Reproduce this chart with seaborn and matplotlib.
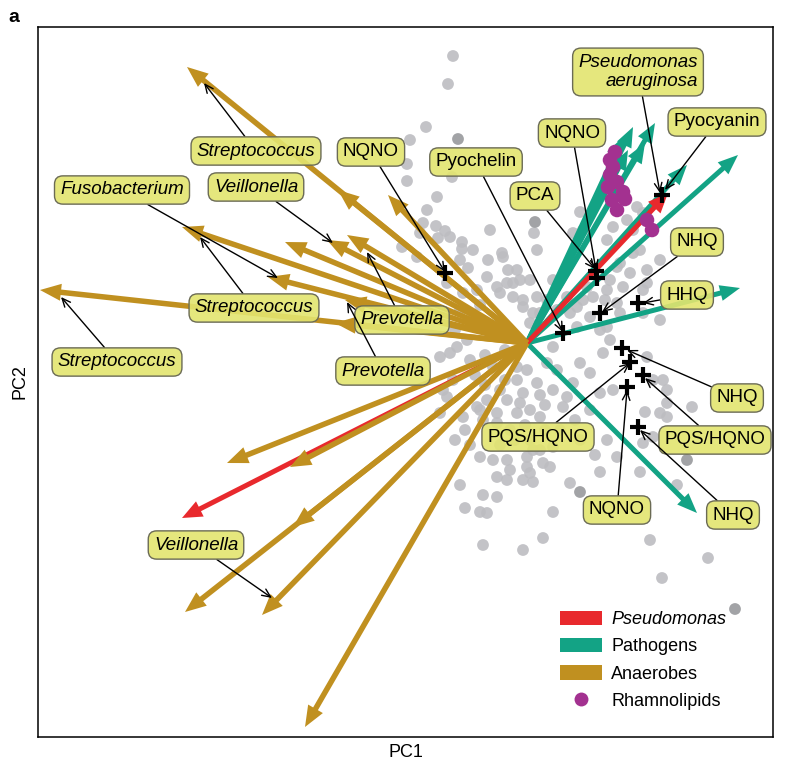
import matplotlib
matplotlib.use("Agg")
import matplotlib.pyplot as plt
import seaborn as sns
from matplotlib.patches import Patch
from matplotlib.lines import Line2D
from matplotlib.colors import to_rgba

sns.set_theme(style="white")
plt.rcParams['font.family'] = ['Liberation Sans', 'DejaVu Sans']
plt.rcParams['text.color'] = 'black'
plt.rcParams['axes.labelcolor'] = 'black'

GOLD = "#C09020"
TEAL = "#13A385"
RED = "#E8292D"
PURPLE = "#A33190"
GREY = "#BDBDC1"
GREY_DARK = "#A2A3A6"
LABEL_FILL = "#E3E56F"

# --- sample scores (PC1, PC2) ---
grey_pc1 = [-74, -79, -101, -117, -120, -120, -75, -90, -100, -104, -91, -82, -89, -77,
            -65, -65, -107, -125, -110, -37, -39, -25, -67, -59, -54, -40, -50, -27, -19,
            -10, -14, -7, 7, 10, 3, 10, -4, 6, 3, -80, -64, -30, -14, 26, 40, 50, 13, 66,
            63, 53, 56, 80, 86, 100, 106, 46, 93, 103, 106, 120, 133, 133, 116, 93, 80, 78,
            60, 73, -24, -20, -4, 110, 116, 113, 120, 90, 83, 96, 90, 116, 56, 43, 50, 80,
            20, 30,
            -60, -70, -34, -10, -27, -50, -44, -74, -84, -10, 0, 10, 26, 40, -4, -20, -40,
            -47, -64, -30, -10, 3, 13, -30, -7, 26, 20, 30, 46, 36, -77, -87, -80, -87, -57,
            -42, -22, -52, -17, -2, 18, -62, -72,
            -57, -72, -37, -27, -47, -67, -22, -42, 13, 18, -12, 3, -27, 13, -57, 33, 48,
            63, 53, 68,
            -47, -34, -20, 0, 23, -30, -20, 3, 6, -4, -67, -44, -30, -62, -47, -40, 26, 73,
            -44, -4, 16, -17, 0,
            53, 63, 73, 86, 76, 83, 120, 136, 140, 133, 118, 165, 126, 140, 140, 116, 113,
            90, 80, 126, 150, 43, 16, 26, 6, 123, 181, 135]
grey_pc2 = [287, 259, 216, 203, 179, 162, 166, 146, 133, 120, 117, 112, 105, 106,
            101, 94, 110, 96, 86, 113, 83, 90, 83, 75, 93, 66, 53, 50, 73,
            73, 60, 63, 110, 93, 63, 46, 36, 30, 20, 60, 50, 56, 46, 63, 46, 36, 30, 46,
            26, 131, 113, 103, 116, 123, 113, 110, 80, 70, 90, 60, 83, 23, 30, 30, 53, 43,
            56, 13, 86, 60, 43, 136, 130, 93, 73, 76, 63, 56, 40, 53, 43, 30, 16, 16,
            43, 33,
            3, -4, -24, -37, -47, -64, -77, -37, -47, -24, -27, -40, -47, -54, -50, -57, -57,
            -67, -74, -70, -70, -67, -74, -80, -60, -4, -20, -27, -40, -64, -10, -14, -54, -70, -17,
            -12, -7, -32, -87, -82, -87, -87, -97,
            23, 13, 8, 23, 38, 33, -37, -42, -52, -62, -97, -97, -102, -107, -102, -87, -77,
            -67, -97, -112,
            -114, -117, -117, -114, -124, -134, -137, -130, -139, -137, -142, -152, -154, -165,
            -169, -170, -169, -129, -202, -207, -195, -127, -124,
            -20, -30, -50, -47, -10, 3, -14, -37, -47, -70, -69, -64, -37, -60, -74, -100,
            -129, -114, -97, -94, -142, -140, -120, -104, -107, -197, -215, -235]
grey_dark_pc1 = [53, 160, 208, -69, 8]
grey_dark_pc2 = [-149, -117, -266, 204, 121]

rhamno_pc1 = [88, 83, 86, 90, 81, 96, 85, 98, 90, 120, 125, 83]
rhamno_pc2 = [191, 183, 176, 161, 156, 151, 143, 144, 133, 123, 113, 168]

# --- loadings (arrow tips) ---
anaerobe_pc1 = [-340, -189, -487, -345, -242, -200, -180, -139, -259, -182, -192,
                -300, -237, -234, -342, -265, -222]
anaerobe_pc2 = [276, 153, 53, 116, 101, 103, 108, 148, 66, 43, 20,
                -120, -124, -184, -269, -272, -384]
pathogen_pc1 = [211, 213, 170, 128, 106, 96, 118, 160, 101]
pathogen_pc2 = [188, 55, -170, 220, 216, 206, 200, 178, 193]
pseudo_pc1 = [-345, 141]
pseudo_pc2 = [-175, 150]

# --- metabolite positions ---
metab_pc1 = [-82, 69, 70, 73, 111, 36, 135, 95, 103, 116, 100, 111]
metab_pc2 = [70, 72, 65, 30, 40, 10, 148, -5, -19, -32, -44, -84]

# --- labels: text, box centre, arrow target, italic ---
label_text = ["Streptococcus", "Fusobacterium", "Veillonella", "NQNO", "Pyochelin",
              "Streptococcus", "Prevotella", "Prevotella", "Streptococcus", "Veillonella",
              "Pseudomonas\naeruginosa", "NQNO", "Pyocyanin", "PCA", "NHQ", "HHQ", "NHQ",
              "PQS/HQNO", "PQS/HQNO", "NQNO", "NHQ"]
label_pc1 = [-271, -405, -271, -156, -51, -273, -125, -144, -410, -331,
             111, 45, 190, 8, 170, 160, 210, 11, 188, 90, 206]
label_pc2 = [192, 153, 156, 191, 181, 35, 23, -28, -19, -202,
             271, 210, 221, 147, 101, 48, -55, -94, -97, -167, -172]
target_pc1 = [-323, -249, -194, -82, 36, -327, -160, -180, -466, -255,
              133, 69, 138, 68, 75, 116, 100, 103, 118, 100, 113]
target_pc2 = [260, 65, 100, 71, 11, 106, 91, 41, 46, -255,
              150, 73, 153, 74, 31, 40, -7, -20, -35, -47, -87]
label_italic = [True, True, True, False, False, True, True, True, True, True,
                True, False, False, False, False, False, False, False, False, False, False]

fig = plt.figure(figsize=(7.92, 7.68), dpi=100)
ax = fig.add_axes([38 / 792, 31 / 768, 735 / 792, 710 / 768])

sns.scatterplot(x=grey_pc1, y=grey_pc2, color=GREY, s=72, edgecolor='none',
                alpha=0.9, ax=ax, legend=False, zorder=1)
sns.scatterplot(x=grey_dark_pc1, y=grey_dark_pc2, color=GREY_DARK, s=72,
                edgecolor='none', ax=ax, legend=False, zorder=1)


def draw_arrows(xs, ys, color, width, hw, hl, z):
    for dx, dy in zip(xs, ys):
        ax.arrow(0, 0, dx, dy, width=width, head_width=hw, head_length=hl,
                 length_includes_head=True, color=color, lw=0, zorder=z)


draw_arrows(pathogen_pc1, pathogen_pc2, TEAL, 5, 16, 20, 2)
draw_arrows(pseudo_pc1, pseudo_pc2, RED, 5, 17, 20, 3)
draw_arrows(anaerobe_pc1, anaerobe_pc2, GOLD, 5.5, 17, 21, 4)

sns.scatterplot(x=rhamno_pc1, y=rhamno_pc2, color=PURPLE, s=110, edgecolor='none',
                ax=ax, legend=False, zorder=5)
ax.plot(metab_pc1, metab_pc2, linestyle='none', marker='+', color='black',
        markersize=12, markeredgewidth=3, zorder=6)

box_fc = to_rgba(LABEL_FILL, 0.9)
for txt, lx, ly, tx, ty, it in zip(label_text, label_pc1, label_pc2,
                                   target_pc1, target_pc2, label_italic):
    ax.annotate(txt, xy=(tx, ty), xytext=(lx, ly), textcoords='data',
                ha='center', va='center', fontsize=13.5, color='black',
                style='italic' if it else 'normal', multialignment='right',
                bbox=dict(boxstyle='round,pad=0.3,rounding_size=0.45',
                          fc=box_fc, ec='#6b6b55', lw=1),
                arrowprops=dict(arrowstyle='->,head_length=0.45,head_width=0.2',
                                color='black', lw=1, shrinkA=0, shrinkB=0),
                zorder=8)

ax.set_xlim(-489, 246)
ax.set_ylim(-394, 316)
ax.set_xticks([])
ax.set_yticks([])
for sp in ax.spines.values():
    sp.set_color('black')
    sp.set_linewidth(1.1)
ax.set_xlabel('PC1', fontsize=13, labelpad=5)
ax.set_ylabel('PC2', fontsize=13, labelpad=7)

handles = [Patch(facecolor=RED, edgecolor='none'),
           Patch(facecolor=TEAL, edgecolor='none'),
           Patch(facecolor=GOLD, edgecolor='none'),
           Line2D([], [], linestyle='none', marker='o', color=PURPLE,
                  markersize=10, markeredgewidth=0)]
leg = ax.legend(handles, ['Pseudomonas', 'Pathogens', 'Anaerobes', 'Rhamnolipids'],
                loc='upper left', bbox_to_anchor=(0.71, 0.178), frameon=False,
                fontsize=13, handlelength=2.35, handleheight=0.85, handletextpad=0.5,
                labelspacing=0.55, borderpad=0, borderaxespad=0)
leg.get_texts()[0].set_style('italic')
for t in leg.get_texts():
    t.set_color('black')

fig.text(0.01, 0.988, 'a', fontsize=14, fontweight='bold', va='top', ha='left',
         color='black')

fig.savefig('out.png', dpi=100)
